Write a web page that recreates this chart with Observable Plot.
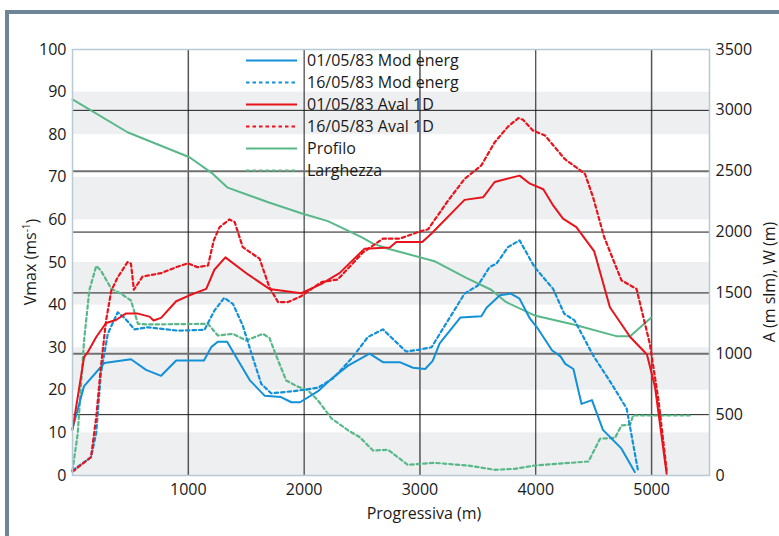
<!DOCTYPE html>
<html><head><meta charset="utf-8">
<script src="https://cdn.jsdelivr.net/npm/d3@7"></script>
<script src="https://cdn.jsdelivr.net/npm/@observablehq/plot@0.6"></script>
<style>
html,body{margin:0;padding:0;background:#fff;}
#chart{position:relative;width:779px;height:536px;overflow:hidden;}
</style></head><body><div id="chart"></div>
<script>
// ---- tick labels / axes ----
const xTicks = [1000, 2000, 3000, 4000, 5000];
const leftTicks = [0, 10, 20, 30, 40, 50, 60, 70, 80, 90, 100];
const rightTicks = [0, 500, 1000, 1500, 2000, 2500, 3000, 3500];
const bands = [[0, 10], [20, 30], [40, 50], [60, 70], [80, 90]];
const xGridDark = [2000, 4000];
const xGridGray = [1000, 3000, 5000];
const yGridDarkM = [500, 1500, 2000, 3000];
const yGridGrayM = [1000, 2500];

// ---- series: [progressiva (m), value] ----
const modEnerg0105 = [[0,11],[100,21],[275,26.4],[505,27.3],[635,24.8],[765,23.4],[895,27],[1135,27],[1200,30.2],[1255,31.4],[1335,31.4],[1430,27],[1530,22.4],[1660,18.7],[1800,18.4],[1890,17.2],[1965,17.2],[2120,19.8],[2240,22.8],[2380,25.8],[2565,28.6],[2680,26.6],[2825,26.6],[2940,25.3],[3045,25],[3110,26.9],[3170,31],[3350,37.1],[3530,37.4],[3575,39.4],[3690,42.3],[3785,42.7],[3860,41.5],[3950,36.8],[4020,34.4],[4140,29.4],[4215,27.9],[4255,26.2],[4325,25],[4395,16.8],[4485,17.7],[4580,10.7],[4740,6.3],[4855,0.8]];
const modEnerg1605 = [[0,1.2],[160,4.3],[205,10],[245,24],[305,33.3],[390,38.3],[450,37],[535,34.3],[650,34.8],[910,34],[1140,34.2],[1225,38.7],[1310,41.7],[1385,40.3],[1470,35.2],[1555,27.8],[1630,21.5],[1715,19.3],[1915,19.8],[2120,20.6],[2250,22.8],[2420,27.8],[2550,32.5],[2680,34.3],[2780,31.7],[2880,29.1],[2985,29.5],[3100,30.1],[3215,35.2],[3385,42.7],[3500,44.6],[3600,48.9],[3660,49.7],[3760,53.6],[3860,55.2],[3990,48.9],[4150,43.8],[4245,38],[4335,36.4],[4495,28.2],[4655,21.5],[4785,15.7],[4885,0.8]];
const aval0105 = [[0,10.7],[100,27.8],[130,28.9],[205,32.5],[290,35.8],[375,36.5],[460,38],[565,38],[665,37.3],[700,36.4],[765,37],[895,40.9],[1010,42.3],[1155,43.8],[1225,48.3],[1320,51.2],[1515,47.2],[1700,43.8],[1975,42.8],[2150,45],[2305,47.5],[2520,53.2],[2740,53.5],[2795,54.8],[3020,54.8],[3100,56.8],[3385,64.7],[3545,65.3],[3645,68.9],[3860,70.4],[3950,68.5],[4065,67.2],[4150,63.4],[4235,60.3],[4350,58.3],[4505,52.6],[4640,39.5],[4815,32.5],[4960,28.4],[5030,20.7],[5130,0.4]];
const aval1605 = [[0,0.9],[160,4.3],[205,13.7],[245,25.4],[290,36.4],[335,43.4],[390,46.5],[475,50.1],[505,49.7],[530,43.6],[605,46.7],[765,47.5],[895,48.9],[995,49.8],[1080,48.9],[1170,49.3],[1220,55.2],[1270,58.3],[1355,60.1],[1400,59.5],[1470,53.6],[1615,50.9],[1700,44.2],[1775,40.7],[1860,40.7],[1975,42.1],[2150,45.4],[2290,46],[2510,52.4],[2680,55.6],[2825,55.6],[3000,57.3],[3070,57.8],[3245,64.6],[3385,69.6],[3530,72.8],[3645,78.2],[3760,81.9],[3850,83.9],[3890,83.5],[3975,81],[4080,79.8],[4250,74.3],[4425,70.8],[4495,65.3],[4590,56],[4740,45.8],[4870,43.8],[4985,30.9],[5060,17.6],[5130,1.2]];
// right axis (m)
const profilo = [[0,3090],[475,2820],[1010,2615],[1210,2480],[1340,2365],[1690,2245],[1975,2155],[2205,2090],[2495,1958],[2595,1905],[2725,1863],[3125,1761],[3400,1624],[3615,1526],[3745,1424],[3990,1315],[4335,1238],[4695,1145],[4815,1145],[4995,1296]];
const larghezza = [[0,41],[45,343],[100,1109],[145,1520],[205,1722],[245,1684],[335,1534],[420,1493],[505,1438],[565,1246],[650,1241],[1170,1246],[1255,1150],[1385,1164],[1500,1109],[1570,1136],[1645,1164],[1700,1131],[1775,945],[1845,781],[1945,730],[2035,698],[2120,616],[2235,470],[2380,370],[2480,315],[2595,205],[2725,211],[2895,88],[3125,104],[3415,82],[3645,47],[3820,55],[3990,82],[4455,115],[4555,302],[4685,310],[4740,411],[4815,417],[4840,493],[5330,493]];

const seriesNames = ["01/05/83 Mod energ","16/05/83 Mod energ","01/05/83 Aval 1D","16/05/83 Aval 1D","Profilo","Larghezza"];
const seriesColors = ["#1391d8","#1391d8","#e8141c","#e8141c","#58b888","#58b888"];
const seriesDash = [null,"3.5,3",null,"3.5,3",null,"3.5,3"];

const K = 3500 / 100; // metres per left-axis unit
const FONT = '"Open Sans", sans-serif';
const FS = 16;

const lineFor = (data, i, scaled) => Plot.line(data, {
  x: d => d[0], y: d => scaled ? d[1] / K : d[1],
  stroke: seriesColors[i], strokeWidth: seriesDash[i] ? 2.2 : 2, strokeDasharray: seriesDash[i] || undefined,
  strokeLinejoin: "round", curve: "linear"
});

const chart = Plot.plot({
  width: 779, height: 536,
  marginLeft: 72, marginRight: 70, marginTop: 49, marginBottom: 61,
  style: {fontFamily: FONT, fontSize: FS + "px", color: "#1a1a1a", background: "transparent"},
  x: {domain: [0, 5500], axis: null},
  y: {domain: [0, 100], axis: null},
  marks: [
    Plot.rect(bands, {x1: 0, x2: 5500, y1: d => d[0], y2: d => d[1], fill: "#eeeff1"}),
    Plot.ruleX(xGridGray, {stroke: "#555", strokeWidth: 1.5}),
    Plot.ruleX(xGridDark, {stroke: "#1a1a1a", strokeWidth: 1}),
    Plot.ruleY(yGridDarkM.map(m => m / K), {stroke: "#1a1a1a", strokeWidth: 1}),
    Plot.ruleY(yGridGrayM.map(m => m / K), {stroke: "#707070", strokeWidth: 2}),
    lineFor(larghezza, 5, true),
    lineFor(profilo, 4, true),
    lineFor(modEnerg1605, 1, false),
    lineFor(modEnerg0105, 0, false),
    lineFor(aval1605, 3, false),
    lineFor(aval0105, 2, false),
    Plot.frame({stroke: "#b7c9d4", strokeWidth: 1.5}),
    Plot.axisY({anchor: "left", ticks: leftTicks, tickSize: 0, tickPadding: 6, label: null, fontSize: FS}),
    Plot.axisY({anchor: "right", ticks: rightTicks.map(m => m / K), tickFormat: v => String(Math.round(v * K)), tickSize: 0, tickPadding: 6, label: null, fontSize: FS}),
    Plot.axisX({ticks: xTicks, tickFormat: d => String(d), tickSize: 0, tickPadding: 8, label: null, fontSize: FS})
  ]
});
document.getElementById("chart").appendChild(chart);

const svg = d3.select(chart);
// outer slate frame
svg.insert("rect", ":first-child").attr("x", 5).attr("y", 10).attr("width", 774).attr("height", 4).attr("fill", "#6d8597");
svg.insert("rect", ":first-child").attr("x", 5).attr("y", 10).attr("width", 4).attr("height", 526).attr("fill", "#6d8597");

// legend
const lg = svg.append("g").attr("font-family", FONT).attr("font-size", FS).attr("fill", "#1a1a1a").attr("text-anchor", "start");
seriesNames.forEach((name, i) => {
  const y = 60.5 + 22 * i;
  lg.append("line").attr("x1", 246).attr("x2", 297).attr("y1", y).attr("y2", y)
    .attr("stroke", seriesColors[i]).attr("stroke-width", 2)
    .attr("stroke-dasharray", seriesDash[i]);
  lg.append("text").attr("x", 307).attr("y", y).attr("dy", "0.35em").attr("text-anchor", "start").text(name);
});

// axis titles
const t1 = svg.append("text").attr("font-family", FONT).attr("font-size", FS).attr("fill", "#1a1a1a")
  .attr("text-anchor", "middle").attr("transform", "translate(30,262) rotate(-90)").attr("dy", "0.35em");
t1.append("tspan").text("Vmax (ms");
t1.append("tspan").attr("font-size", 10).attr("dy", "-0.6em").text("-1");
t1.append("tspan").attr("dy", "0.5em").text(")");
svg.append("text").attr("font-family", FONT).attr("font-size", FS).attr("fill", "#1a1a1a")
  .attr("text-anchor", "middle").attr("transform", "translate(769,282) rotate(-90)").attr("dy", "0.35em")
  .text("A (m slm), W (m)");
svg.append("text").attr("font-family", FONT).attr("font-size", FS).attr("fill", "#1a1a1a")
  .attr("text-anchor", "middle").attr("x", 424).attr("y", 513).attr("dy", "0.35em")
  .text("Progressiva (m)");
</script></body></html>
